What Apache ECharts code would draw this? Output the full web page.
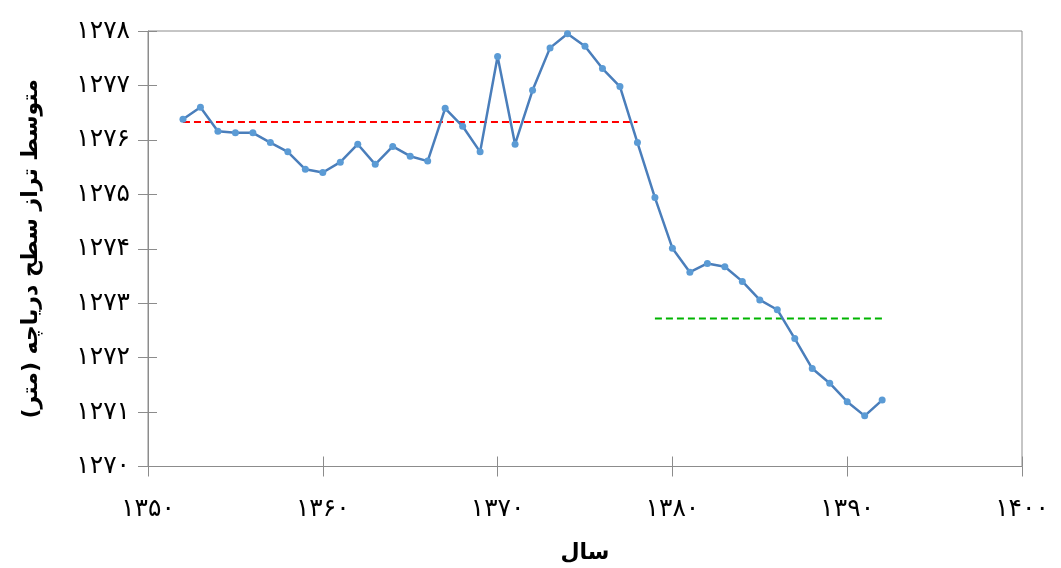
<!DOCTYPE html>
<html>
<head>
<meta charset="utf-8">
<script src="https://cdn.jsdelivr.net/npm/echarts@6/dist/echarts.min.js"></script>
<style>html,body{margin:0;padding:0;background:#fff;}#c{width:1061px;height:568px;}</style>
</head>
<body>
<div id="c"></div>
<script>
var years = [1352,1353,1354,1355,1356,1357,1358,1359,1360,1361,1362,1363,1364,1365,1366,1367,1368,1369,1370,1371,1372,1373,1374,1375,1376,1377,1378,1379,1380,1381,1382,1383,1384,1385,1386,1387,1388,1389,1390,1391,1392];
var levels = [1276.38,1276.60,1276.16,1276.13,1276.13,1275.95,1275.78,1275.46,1275.40,1275.59,1275.92,1275.55,1275.88,1275.70,1275.61,1276.58,1276.25,1275.78,1277.53,1275.92,1276.91,1277.69,1277.95,1277.72,1277.31,1276.98,1275.95,1274.94,1274.01,1273.57,1273.73,1273.67,1273.40,1273.06,1272.88,1272.35,1271.80,1271.53,1271.19,1270.93,1271.22];
var meanBeforeYears = [1352, 1378];
var meanBefore = 1276.33;
var meanAfterYears = [1379, 1392];
var meanAfter = 1272.72;
var xTickValues = [1350,1360,1370,1380,1390,1400];
var xTickLabels = ['۱۳۵۰','۱۳۶۰','۱۳۷۰','۱۳۸۰','۱۳۹۰','۱۴۰۰'];
var yTickValues = [1270,1271,1272,1273,1274,1275,1276,1277,1278];
var yTickLabels = ['۱۲۷۰','۱۲۷۱','۱۲۷۲','۱۲۷۳','۱۲۷۴','۱۲۷۵','۱۲۷۶','۱۲۷۷','۱۲۷۸'];
var xName = 'سال';
var yName = 'متوسط تراز سطح دریاچه (متر)';

function lab(vals, labels) {
  return function (v) { var i = vals.indexOf(Math.round(v)); return i >= 0 ? labels[i] : ''; };
}
var font = 'DejaVu Sans';
var chart = echarts.init(document.getElementById('c'));
chart.setOption({
  backgroundColor: '#fff',
  animation: false,
  grid: { left: 148, right: 39, top: 31, bottom: 101.5, show: true, borderColor: '#8c8c8c', borderWidth: 1, outerBoundsMode: 'none', containLabel: false },
  xAxis: [{
    type: 'value', min: 1350, max: 1400, interval: 10,
    name: xName, nameLocation: 'middle', nameGap: 76,
    nameTextStyle: { fontFamily: font, fontSize: 22, fontWeight: 'bold', color: '#000' },
    axisLine: { show: true, lineStyle: { color: '#8c8c8c', width: 1 } },
    axisTick: { show: true, length: 10, lineStyle: { color: '#8c8c8c' } },
    axisLabel: { formatter: lab(xTickValues, xTickLabels), margin: 30, fontFamily: font, fontSize: 25, color: '#000' },
    splitLine: { show: false }
  }, {
    type: 'value', min: 1350, max: 1400, interval: 10, position: 'bottom',
    axisLine: { show: false }, axisLabel: { show: false }, splitLine: { show: false },
    axisTick: { show: true, inside: true, length: 10, lineStyle: { color: '#8c8c8c' } }
  }],
  yAxis: [{
    type: 'value', min: 1270, max: 1278, interval: 1,
    name: yName, nameLocation: 'middle', nameGap: 106, nameRotate: 90,
    nameTextStyle: { fontFamily: font, fontSize: 22, fontWeight: 'bold', color: '#000' },
    axisLine: { show: true, lineStyle: { color: '#8c8c8c', width: 1 } },
    axisTick: { show: true, length: 10, lineStyle: { color: '#8c8c8c' } },
    axisLabel: { formatter: lab(yTickValues, yTickLabels), margin: 18, fontFamily: font, fontSize: 25, color: '#000' },
    splitLine: { show: false }
  }, {
    type: 'value', min: 1270, max: 1278, interval: 1, position: 'left',
    axisLine: { show: false }, axisLabel: { show: false }, splitLine: { show: false },
    axisTick: { show: true, inside: true, length: 9, lineStyle: { color: '#8c8c8c' } }
  }],
  series: [{
    type: 'line',
    data: years.map(function (y, i) { return [y, levels[i]]; }),
    symbol: 'circle', symbolSize: 7,
    lineStyle: { color: '#4a7ebb', width: 2.5 },
    itemStyle: { color: '#5b9bd5' },
    z: 3
  }, {
    type: 'line',
    data: meanBeforeYears.map(function (y) { return [y, meanBefore]; }),
    symbol: 'none',
    lineStyle: { color: '#ff0000', width: 2, type: [7, 4] },
    z: 2
  }, {
    type: 'line',
    data: meanAfterYears.map(function (y) { return [y, meanAfter]; }),
    symbol: 'none',
    lineStyle: { color: '#00b400', width: 2, type: [7, 4] },
    z: 2
  }]
});
</script>
</body>
</html>
